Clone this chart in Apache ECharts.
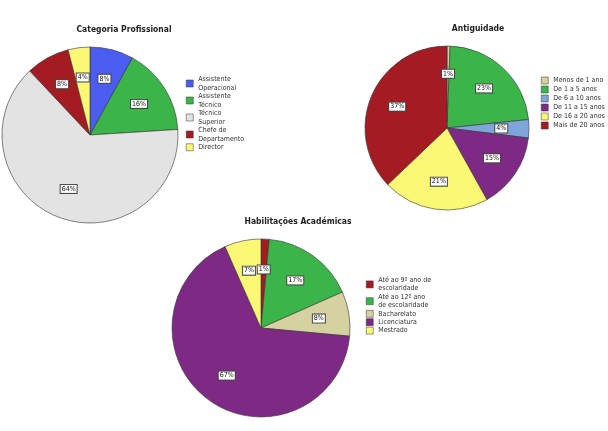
<!DOCTYPE html>
<html>
<head>
<meta charset="utf-8">
<script src="https://cdn.jsdelivr.net/npm/echarts@6/dist/echarts.min.js"></script>
<style>
  html, body { margin: 0; padding: 0; background: #fff; }
  #main { width: 608px; height: 431px; }
</style>
</head>
<body>
<div id="main"></div>
<script>
// dados
var catNames = ['Assistente Operacional', 'Assistente Técnico', 'Técnico Superior', 'Chefe de Departamento', 'Director'];
var catValues = [2, 4, 16, 2, 1];
var catColors = ['#4b5cf0', '#3bb54a', '#e3e3e3', '#a51b22', '#fbf875'];

var antNames = ['Menos de 1 ano', 'De 1 a 5 anos', 'De 6 a 10 anos', 'De 11 a 15 anos', 'De 16 a 20 anos', 'Mais de 20 anos'];
var antValues = [1, 38, 6, 25, 35, 62];
var antColors = ['#d6d1a0', '#3bb54a', '#7ea6da', '#7e2a85', '#fbf875', '#a51b22'];

var habNames = ['Até ao 9º ano de escolaridade', 'Até ao 12º ano de escolaridade', 'Bacharelato', 'Licenciatura', 'Mestrado'];
var habValues = [2, 23, 11, 91, 9];
var habColors = ['#a51b22', '#3bb54a', '#d6d1a0', '#7e2a85', '#fbf875'];

// quebras de linha da legenda
var legendBreaks = {
  'Assistente Operacional': 'Assistente\nOperacional',
  'Assistente Técnico': 'Assistente\nTécnico',
  'Técnico Superior': 'Técnico\nSuperior',
  'Chefe de Departamento': 'Chefe de\nDepartamento',
  'Até ao 9º ano de escolaridade': 'Até ao 9º ano de\nescolaridade',
  'Até ao 12º ano de escolaridade': 'Até ao 12º ano\nde escolaridade'
};

var font = 'DejaVu Sans Condensed, DejaVu Sans';

function toData(names, values, colors) {
  return names.map(function (n, i) {
    return { name: n, value: values[i], itemStyle: { color: colors[i] } };
  });
}

// fatia + série "fantasma" só para posicionar as etiquetas
function pieSeries(names, values, colors, center, r) {
  return [{
    type: 'pie',
    center: center,
    radius: [0, r],
    startAngle: 90,
    clockwise: true,
    animation: false,
    silent: true,
    itemStyle: { borderColor: '#333', borderWidth: 0.6 },
    label: { show: false },
    labelLine: { show: false },
    data: toData(names, values, colors)
  }, {
    type: 'pie',
    center: center,
    radius: [0, r * 1.25],
    startAngle: 90,
    clockwise: true,
    animation: false,
    silent: true,
    legendHoverLink: false,
    z: 5,
    itemStyle: { color: 'rgba(0,0,0,0)', borderWidth: 0 },
    label: {
      show: true,
      position: 'inside',
      formatter: function (p) { return Math.round(p.percent) + '%'; },
      fontFamily: font,
      fontSize: 7,
      color: '#111',
      backgroundColor: '#fff',
      borderColor: '#444',
      borderWidth: 1,
      padding: [1, 1, 0, 1]
    },
    labelLine: { show: false },
    data: names.map(function (n, i) { return { name: n + ' ', value: values[i] }; })
  }];
}

function legend(names, left, top, size, lh) {
  return {
    orient: 'vertical',
    left: left,
    top: top,
    data: names,
    icon: 'rect',
    itemWidth: 7,
    itemHeight: 7,
    itemGap: 0,
    selectedMode: false,
    itemStyle: { borderColor: '#333', borderWidth: 0.5 },
    formatter: function (n) { return legendBreaks[n] || n; },
    textStyle: {
      fontFamily: font,
      fontSize: size,
      lineHeight: lh,
      color: '#333'
    }
  };
}

var titleStyle = {
  fontFamily: 'Liberation Sans Narrow, DejaVu Sans Condensed, sans-serif',
  fontSize: 8.5,
  fontWeight: 'bold',
  color: '#222'
};

var chart = echarts.init(document.getElementById('main'));
var option = {
  backgroundColor: '#fff',
  title: [
    { text: 'Categoria Profissional', left: 119, top: 20, textAlign: 'center', textStyle: titleStyle },
    { text: 'Antiguidade', left: 473, top: 19, textAlign: 'center', textStyle: titleStyle },
    { text: 'Habilitações Académicas', left: 293, top: 212, textAlign: 'center', textStyle: titleStyle }
  ],
  legend: [
    legend(catNames, 181, 70, 7, 8.5),
    legend(antNames, 536, 71, 7, 9),
    legend(habNames, 361, 271, 7, 8.4)
  ],
  series: []
    .concat(pieSeries(catNames, catValues, catColors, [90, 135], 88))
    .concat(pieSeries(antNames, antValues, antColors, [447, 128], 82))
    .concat(pieSeries(habNames, habValues, habColors, [261, 328], 89))
};
chart.setOption(option);
</script>
</body>
</html>
